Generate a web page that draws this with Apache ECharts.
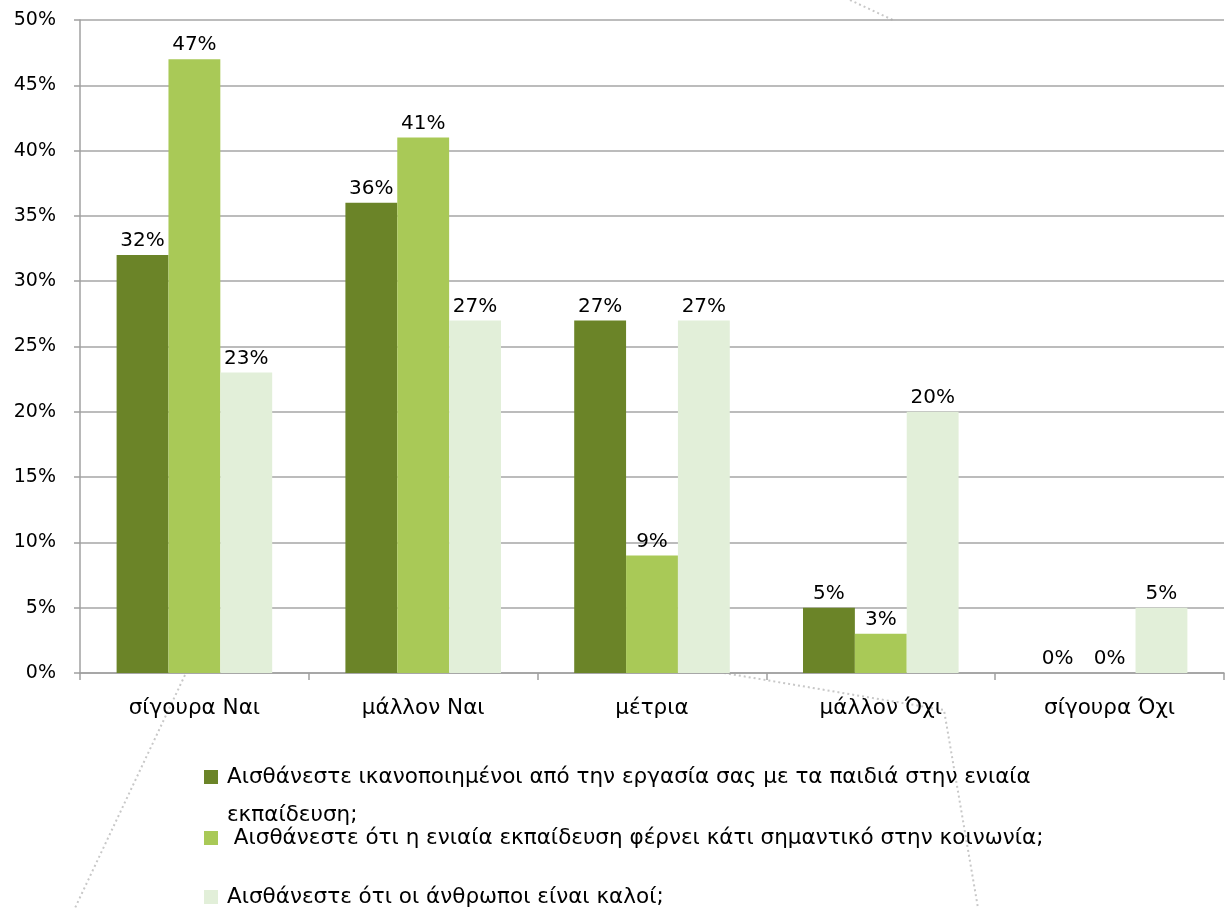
<!DOCTYPE html>
<html>
<head>
<meta charset="utf-8">
<script src="https://cdn.jsdelivr.net/npm/echarts@6/dist/echarts.min.js"></script>
<style>html,body{margin:0;padding:0;background:#fff}#c{width:1227px;height:908px}</style>
</head>
<body>
<div id="c"></div>
<script>
const categories = ['σίγουρα Ναι', 'μάλλον Ναι', 'μέτρια', 'μάλλον Όχι', 'σίγουρα Όχι'];
const seriesNames = [
  'Αισθάνεστε ικανοποιημένοι από την εργασία σας με τα παιδιά στην ενιαία εκπαίδευση;',
  ' Αισθάνεστε ότι η ενιαία εκπαίδευση φέρνει κάτι σημαντικό στην κοινωνία;',
  'Αισθάνεστε ότι οι άνθρωποι είναι καλοί;'
];
const legendFirstLine = 'Αισθάνεστε ικανοποιημένοι από την εργασία σας με τα παιδιά στην ενιαία';
const legendSecondLine = 'εκπαίδευση;';
const satisfied = [32, 36, 27, 5, 0];
const important = [47, 41, 9, 3, 0];
const goodPeople = [23, 27, 27, 20, 5];
const yTicks = [0, 5, 10, 15, 20, 25, 30, 35, 40, 45, 50];

const FONT = 'DejaVu Sans';
const colors = ['#6b8428', '#a9c957', '#e2efd9'];
const values = [satisfied, important, goodPeople];

const chart = echarts.init(document.getElementById('c'));
const legendTops = [754.5, 815.5, 874.5];
chart.setOption({
  animation: false,
  textStyle: { fontFamily: FONT },
  grid: { left: 80, right: 3, top: 20, bottom: 235 },
  legend: seriesNames.map((n, i) => ({
    data: [n],
    orient: 'vertical',
    left: 199,
    top: legendTops[i],
    itemWidth: 14,
    itemHeight: 14,
    icon: 'rect',
    selectedMode: false,
    formatter: i === 0 ? () => legendFirstLine : (name) => name,
    textStyle: {
      fontFamily: FONT, fontSize: 21.5, color: '#000', lineHeight: 35,
      padding: [0, 0, 0, 4]
    }
  })),
  xAxis: {
    type: 'category',
    data: categories,
    axisLine: { lineStyle: { color: '#a0a0a0', width: 1.5 } },
    axisTick: { show: true, length: 7, lineStyle: { color: '#a0a0a0', width: 1.5 } },
    axisLabel: { fontFamily: FONT, fontSize: 21.5, color: '#000', margin: 24 }
  },
  yAxis: {
    type: 'value',
    min: yTicks[0],
    max: yTicks[yTicks.length - 1],
    interval: yTicks[1] - yTicks[0],
    axisLine: { show: true, lineStyle: { color: '#a0a0a0', width: 1.5 } },
    axisTick: { show: true, length: 6, lineStyle: { color: '#a0a0a0', width: 1.5 } },
    splitLine: { lineStyle: { color: '#a6a6a6', width: 1.5 } },
    axisLabel: { fontFamily: FONT, fontSize: 19, color: '#000', margin: 24, formatter: '{value}%' }
  },
  series: values.map((v, i) => ({
    type: 'bar',
    name: seriesNames[i],
    data: v,
    barGap: '0%',
    barCategoryGap: '32%',
    itemStyle: { color: colors[i] },
    label: {
      show: true, position: 'top', distance: 4,
      fontFamily: FONT, fontSize: 20, color: '#000', formatter: '{c}%'
    }
  })),
  graphic: [
    { type: 'text', left: 227, top: 804, silent: true,
      style: { text: legendSecondLine, font: '21.5px "DejaVu Sans"', fill: '#000' } },
    { type: 'polyline', z: -1, silent: true, shape: { points: [[185, 675], [75, 908]] },
      style: { stroke: '#c8c8c8', lineWidth: 2, lineDash: [2, 3], fill: null } },
    { type: 'polyline', z: -1, silent: true, shape: { points: [[724, 673], [944, 710], [978, 908]] },
      style: { stroke: '#c8c8c8', lineWidth: 2, lineDash: [2, 3], fill: null } },
    { type: 'polyline', z: -1, silent: true, shape: { points: [[850, 0], [895, 21]] },
      style: { stroke: '#c8c8c8', lineWidth: 2, lineDash: [2, 3], fill: null } }
  ]
});
</script>
</body>
</html>
